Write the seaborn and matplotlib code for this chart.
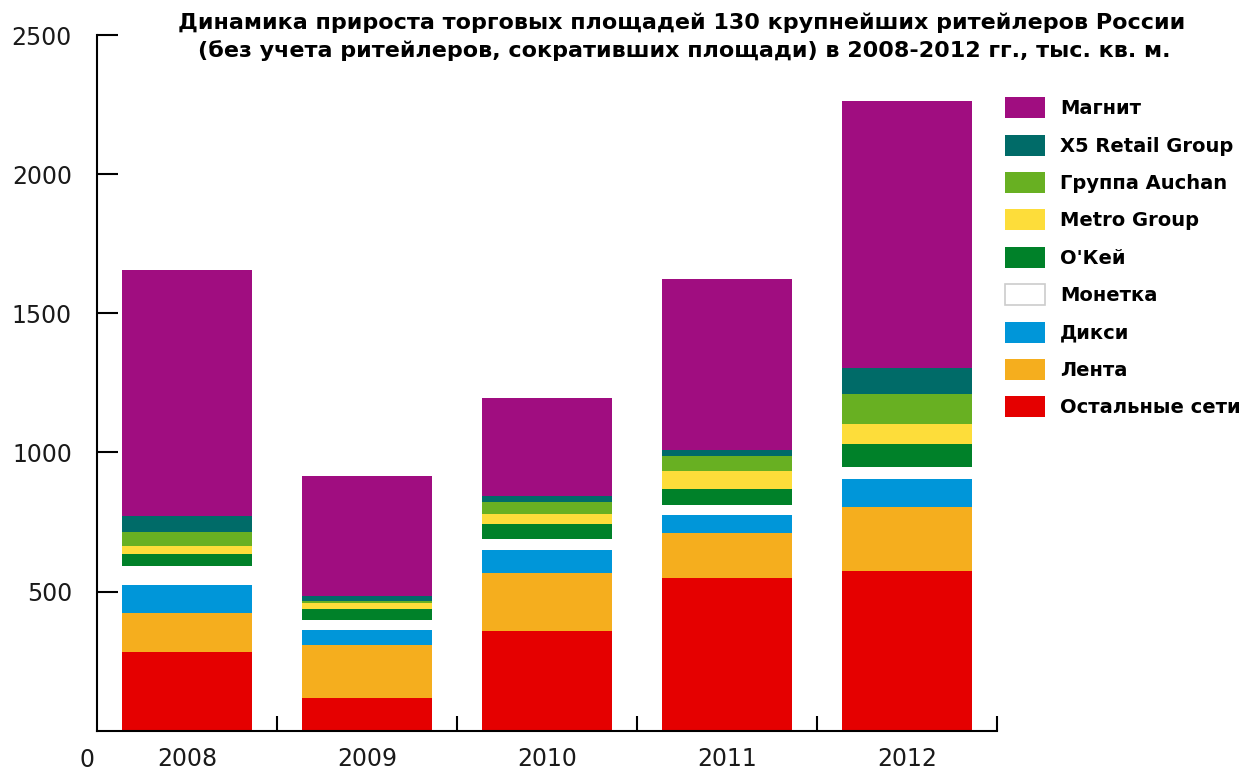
import matplotlib
matplotlib.use("Agg")
import matplotlib.pyplot as plt
import numpy as np
import pandas as pd
import seaborn as sns
from matplotlib.patches import Patch

sns.set_style("white")
plt.rcParams['font.family'] = ['DejaVu Sans']

# ---- data (тыс. кв. м), bottom -> top of each stack ----
years = ["2008", "2009", "2010", "2011", "2012"]
ostalnye = [283, 117, 358, 547, 574]
lenta = [140, 190, 209, 165, 230]
dixy = [99, 56, 84, 62, 102]
monetka = [70, 34, 39, 36, 41]
okey = [42, 40, 54, 58, 82]
metro = [28, 22, 36, 65, 72]
auchan = [52, 7, 42, 53, 110]
x5 = [56, 17, 20, 24, 93]
magnit = [886, 433, 354, 614, 960]

names = ["Остальные сети", "Лента", "Дикси", "Монетка", "О'Кей",
         "Metro Group", "Группа Auchan", "X5 Retail Group", "Магнит"]
series = [ostalnye, lenta, dixy, monetka, okey, metro, auchan, x5, magnit]
colors = ["#e50000", "#f5ae1e", "#0096d9", "#ffffff", "#008129",
          "#fddd3a", "#68b022", "#006b68", "#a00d80"]

fig = plt.figure(figsize=(12.42, 7.71), dpi=100)
ax = fig.add_axes([0.078, 0.0525, 0.725, 0.9015])

# stacked bars
bottom = np.zeros(len(years))
for name, vals, c in zip(names, series, colors):
    df = pd.DataFrame({"year": years, "value": vals})
    sns.barplot(data=df, x="year", y="value", color=c, saturation=1,
                width=0.72, errorbar=None, bottom=bottom.copy(),
                linewidth=0, ax=ax)
    bottom += np.array(vals)

ax.set_xlim(-0.5, 4.5)
ax.set_ylim(0, 2500)
ax.set_xlabel("")
ax.set_ylabel("")
ax.set_yticks([500, 1000, 1500, 2000, 2500])
ax.set_xticks(range(len(years)), years)
ax.set_xticks(np.arange(0.5, len(years), 1), minor=True)
ax.tick_params(axis='x', which='major', bottom=True, length=0, pad=12,
               labelsize=17, labelcolor='#1a1a1a')
ax.tick_params(axis='x', which='minor', bottom=True, direction='in',
               length=11, width=1.5, color='black')
ax.tick_params(axis='y', left=True, direction='in', length=15, width=1.5,
               pad=18, labelsize=17, labelcolor='#1a1a1a', color='black')
sns.despine(ax=ax)
for s in ['left', 'bottom']:
    ax.spines[s].set_linewidth(1.5)
    ax.spines[s].set_color('black')

ax.annotate("0", xy=(0, 0), xycoords='axes fraction', xytext=(-7, -21),
            textcoords='offset points', ha='center', va='center',
            fontsize=17, color='#1a1a1a')

# title
fig.text(0.549, 0.971,
         "Динамика прироста торговых площадей 130 крупнейших ритейлеров России",
         ha='center', va='center', fontsize=16, fontweight='bold', color='black')
fig.text(0.551, 0.935,
         "(без учета ритейлеров, сокративших площади) в 2008-2012 гг., тыс. кв. м.",
         ha='center', va='center', fontsize=16, fontweight='bold', color='black')

# legend (top -> bottom)
handles = []
for name, c in zip(names[::-1], colors[::-1]):
    ec = '#cccccc' if c == "#ffffff" else 'none'
    handles.append(Patch(facecolor=c, edgecolor=ec, linewidth=1.2, label=name))
leg = fig.legend(handles=handles, loc='upper left', bbox_to_anchor=(0.809, 0.874),
                 frameon=False, borderpad=0, borderaxespad=0, handlelength=2.06,
                 handleheight=1.29, handletextpad=0.77, labelspacing=0.84,
                 prop=dict(size=14, weight='bold'))
for t in leg.get_texts():
    t.set_color('black')

fig.savefig("out.png", dpi=100)
